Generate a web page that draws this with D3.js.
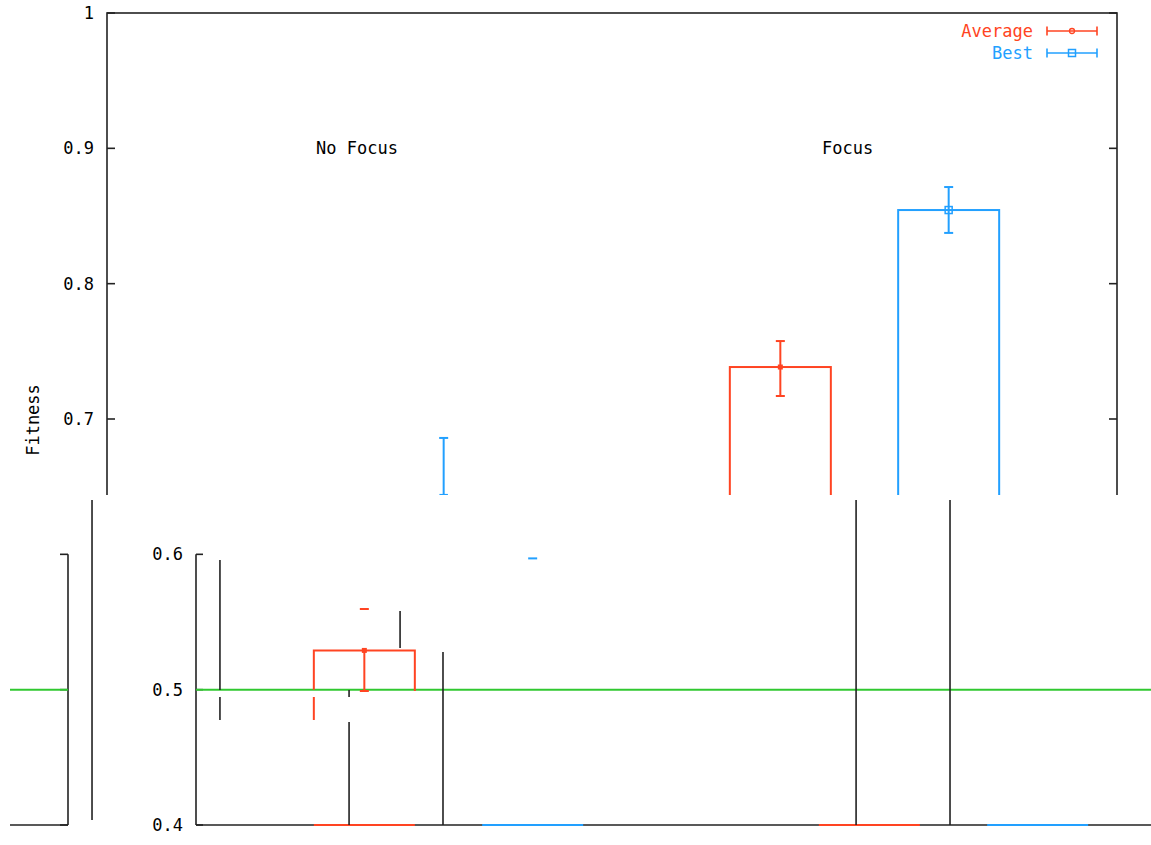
<!DOCTYPE html>
<html>
<head>
<meta charset="utf-8">
<script src="https://cdn.jsdelivr.net/npm/d3@7"></script>
<style>
  body { margin: 0; background: #fff; }
  text { font-family: "DejaVu Sans Mono", monospace; font-size: 17px; fill: #000; }
</style>
</head>
<body>
<svg id="chart" width="1151" height="845"></svg>
<script>
// groups, series and values
const groups = ["No Focus", "Focus"];
const groupLabelX = [0.485, 3.4];
const seriesNames = ["Average", "Best"];
const seriesColors = ["#ff4422", "#22a0ff"];
const avgMean = [0.529, 0.7384];
const avgLow = [0.499, 0.717];
const avgHigh = [0.5596, 0.7576];
const bestMean = [0.6415, 0.8544];
const bestLow = [0.597, 0.8375];
const bestHigh = [0.686, 0.8714];
const yTicks = [0.4, 0.5, 0.6, 0.7, 0.8, 0.9, 1];
const refLine = 0.5;

// broken pieces of the lower half: [x slot, from, to]
const blackPieces = [
  [-1.089, 0.6402, 0.4037],
  [-0.329, 0.5958, 0.4998], [-0.329, 0.4946, 0.4776],
  [0.438, 0.4998, 0.4946], [0.438, 0.4761, 0.4],
  [0.741, 0.5581, 0.5308],
  [0.996, 0.5278, 0.4],
  [3.450, 0.6402, 0.4],
  [4.008, 0.6402, 0.4]
];

const svg = d3.select("#chart");
const x = d3.scaleLinear().domain([-1, 5]).range([107, 1117]);
const y = d3.scaleLinear().domain([0.4, 1]).range([825, 13]);
const barHalf = 0.3;
const axisColor = "#222";
const green = "#30c830";

// one row per bar
const rows = [];
groups.forEach((g, i) => {
  rows.push({group: i, s: 0, x: i * 3, mean: avgMean[i], low: avgLow[i], high: avgHigh[i]});
  rows.push({group: i, s: 1, x: i * 3 + 1, mean: bestMean[i], low: bestLow[i], high: bestHigh[i]});
});

const defs = svg.append("defs");
defs.append("clipPath").attr("id", "clipTop")
  .append("rect").attr("x", 0).attr("y", 0).attr("width", 1151).attr("height", 495);
defs.append("clipPath").attr("id", "clipLow")
  .append("rect").attr("x", 69).attr("y", 497).attr("width", 1082).attr("height", 348);
defs.append("clipPath").attr("id", "clipWrap")
  .append("rect").attr("x", 10).attr("y", 497).attr("width", 59).attr("height", 348);

function marker(g, cx, cy, s) {
  if (s === 0) {
    g.append("rect").attr("x", cx - 2.5).attr("y", cy - 2.5).attr("width", 5).attr("height", 5)
      .attr("fill", seriesColors[0]);
  } else {
    g.append("rect").attr("x", cx - 3.5).attr("y", cy - 3.5).attr("width", 7).attr("height", 7)
      .attr("fill", "none").attr("stroke", seriesColors[1]).attr("stroke-width", 1.5);
  }
}

function cap(g, cx, cy, color) {
  g.append("line").attr("x1", cx - 4.5).attr("x2", cx + 4.5).attr("y1", cy).attr("y2", cy)
    .attr("stroke", color).attr("stroke-width", 2);
}

/* ---------- upper half: the whole chart, cut at the break ---------- */
const upper = svg.append("g").attr("clip-path", "url(#clipTop)");

upper.append("rect")
  .attr("x", x(-1)).attr("y", y(1))
  .attr("width", x(5) - x(-1)).attr("height", y(0.4) - y(1))
  .attr("fill", "none").attr("stroke", axisColor).attr("stroke-width", 1.6);

yTicks.filter(t => t > 0.6).forEach(t => {
  upper.append("line").attr("x1", x(-1)).attr("x2", x(-1) + 8).attr("y1", y(t)).attr("y2", y(t))
    .attr("stroke", axisColor).attr("stroke-width", 1.6);
  upper.append("line").attr("x1", x(5)).attr("x2", x(5) - 8).attr("y1", y(t)).attr("y2", y(t))
    .attr("stroke", axisColor).attr("stroke-width", 1.6);
  upper.append("text").attr("x", x(-1) - 13).attr("y", y(t)).attr("dy", "0.35em")
    .attr("text-anchor", "end").text(t === 1 ? "1" : t.toFixed(1));
});

upper.selectAll("rect.bar").data(rows).enter().append("rect")
  .attr("class", "bar")
  .attr("x", d => x(d.x - barHalf)).attr("width", d => x(d.x + barHalf) - x(d.x - barHalf))
  .attr("y", d => y(d.mean)).attr("height", d => y(0.4) - y(d.mean))
  .attr("fill", "none").attr("stroke", d => seriesColors[d.s]).attr("stroke-width", 2);

rows.forEach(d => {
  const c = seriesColors[d.s];
  upper.append("line").attr("x1", x(d.x)).attr("x2", x(d.x)).attr("y1", y(d.low)).attr("y2", y(d.high))
    .attr("stroke", c).attr("stroke-width", 2);
  cap(upper, x(d.x), y(d.low), c);
  cap(upper, x(d.x), y(d.high), c);
  marker(upper, x(d.x), y(d.mean), d.s);
});

groups.forEach((g, i) => {
  upper.append("text").attr("x", x(groupLabelX[i])).attr("y", y(0.9)).attr("dy", "0.35em")
    .attr("text-anchor", "middle").text(g);
});

svg.append("text")
  .attr("transform", "translate(39,420) rotate(-90)")
  .attr("text-anchor", "middle").text("Fitness");

// legend
seriesNames.forEach((name, s) => {
  const ly = 31 + s * 22, c = seriesColors[s];
  const lg = upper.append("g");
  lg.append("text").attr("x", 1033).attr("y", ly).attr("dy", "0.35em")
    .attr("text-anchor", "end").style("fill", c).text(name);
  lg.append("line").attr("x1", 1047).attr("x2", 1097).attr("y1", ly).attr("y2", ly)
    .attr("stroke", c).attr("stroke-width", 1.6);
  [1047, 1097].forEach(cx => lg.append("line").attr("x1", cx).attr("x2", cx)
    .attr("y1", ly - 4.5).attr("y2", ly + 4.5).attr("stroke", c).attr("stroke-width", 1.6));
  if (s === 0) {
    lg.append("circle").attr("cx", 1072).attr("cy", ly).attr("r", 2.5)
      .attr("fill", "none").attr("stroke", c).attr("stroke-width", 1.3);
  } else {
    marker(lg, 1072, ly, 1);
  }
});

/* ---------- lower half: what survived of the frame, shifted ---------- */
function drawLower(g, withLabels) {
  const low = yTicks.filter(t => t <= 0.6);
  [-1, 5].forEach(b => g.append("line").attr("x1", x(b)).attr("x2", x(b))
    .attr("y1", y(0.6)).attr("y2", y(0.4)).attr("stroke", axisColor).attr("stroke-width", 1.6));
  low.forEach(t => {
    g.append("line").attr("x1", x(-1)).attr("x2", x(-1) + 7).attr("y1", y(t)).attr("y2", y(t))
      .attr("stroke", axisColor).attr("stroke-width", 1.6);
    g.append("line").attr("x1", x(5)).attr("x2", x(5) - 8).attr("y1", y(t)).attr("y2", y(t))
      .attr("stroke", axisColor).attr("stroke-width", 1.6);
    if (withLabels) {
      g.append("text").attr("x", x(-1) - 13).attr("y", y(t)).attr("dy", "0.35em")
        .attr("text-anchor", "end").text(t.toFixed(1));
    }
  });
  g.append("line").attr("x1", x(-1)).attr("x2", x(5)).attr("y1", y(0.4)).attr("y2", y(0.4))
    .attr("stroke", axisColor).attr("stroke-width", 1.6);
  g.append("line").attr("x1", x(-1)).attr("x2", x(5)).attr("y1", y(refLine)).attr("y2", y(refLine))
    .attr("stroke", green).attr("stroke-width", 2);

  rows.forEach(d => g.append("line")
    .attr("x1", x(d.x - barHalf)).attr("x2", x(d.x + barHalf)).attr("y1", y(0.4)).attr("y2", y(0.4))
    .attr("stroke", seriesColors[d.s]).attr("stroke-width", 2));

  // the No Focus average bar is the only one left whole above the line
  const a = rows[0], c = seriesColors[0];
  g.append("path")
    .attr("d", d3.line()([[x(a.x - barHalf), y(refLine)], [x(a.x - barHalf), y(a.mean)],
      [x(a.x + barHalf), y(a.mean)], [x(a.x + barHalf), y(a.low)]]))
    .attr("fill", "none").attr("stroke", c).attr("stroke-width", 2);
  g.append("line").attr("x1", x(a.x - barHalf)).attr("x2", x(a.x - barHalf))
    .attr("y1", y(0.4946)).attr("y2", y(0.4776)).attr("stroke", c).attr("stroke-width", 2);
  g.append("line").attr("x1", x(a.x)).attr("x2", x(a.x)).attr("y1", y(a.mean)).attr("y2", y(a.low))
    .attr("stroke", c).attr("stroke-width", 2);
  cap(g, x(a.x), y(a.low), c);
  cap(g, x(a.x), y(a.high), c);
  marker(g, x(a.x), y(a.mean), 0);

  const b = rows[1];
  cap(g, x(b.x), y(b.low), seriesColors[1]);
}

const lowShift = svg.append("g").attr("clip-path", "url(#clipLow)")
  .append("g").attr("transform", "translate(89,0)");
drawLower(lowShift, true);

const lowWrap = svg.append("g").attr("clip-path", "url(#clipWrap)")
  .append("g").attr("transform", "translate(-1049,0)");
drawLower(lowWrap, false);

svg.append("g").selectAll("line").data(blackPieces).enter().append("line")
  .attr("x1", d => x(d[0])).attr("x2", d => x(d[0]))
  .attr("y1", d => y(d[1])).attr("y2", d => y(d[2]))
  .attr("stroke", axisColor).attr("stroke-width", 1.6);
</script>
</body>
</html>
